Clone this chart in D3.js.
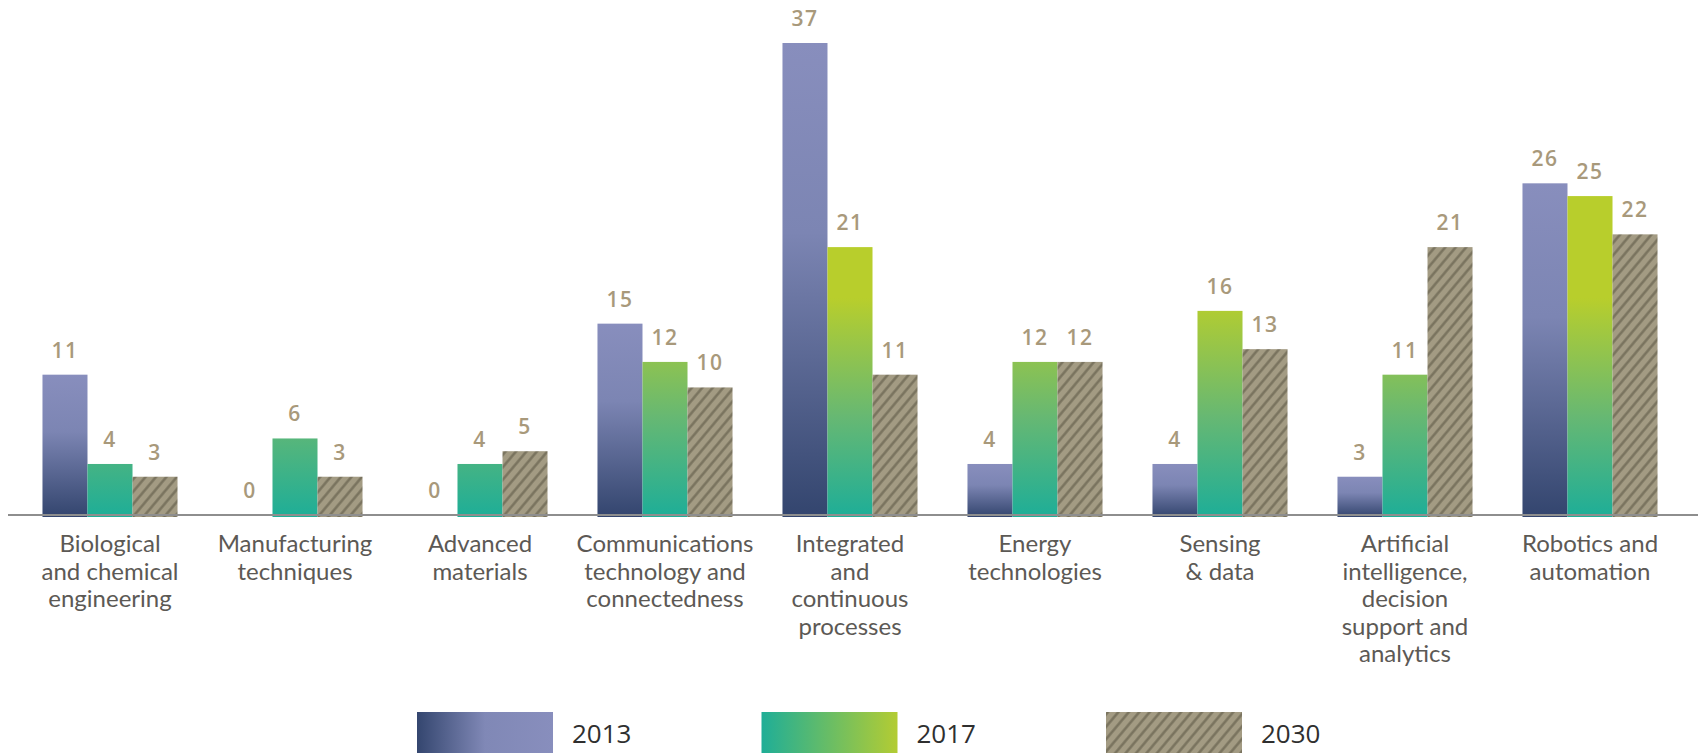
<!DOCTYPE html>
<html>
<head>
<meta charset="utf-8">
<script src="https://cdn.jsdelivr.net/npm/d3@7"></script>
<style>
    html, body { margin: 0; padding: 0; background: #fff; overflow: hidden; }
    svg { display: block; }
</style>
</head>
<body>
<svg id="chart"></svg>
<script>
// values
const categories = [
    'Biological and chemical engineering',
    'Manufacturing techniques',
    'Advanced materials',
    'Communications technology and connectedness',
    'Integrated and continuous processes',
    'Energy technologies',
    'Sensing & data',
    'Artificial intelligence, decision support and analytics',
    'Robotics and automation',
];
const categoryLines = [
    ['Biological', 'and chemical', 'engineering'],
    ['Manufacturing', 'techniques'],
    ['Advanced', 'materials'],
    ['Communications', 'technology and', 'connectedness'],
    ['Integrated', 'and', 'continuous', 'processes'],
    ['Energy', 'technologies'],
    ['Sensing', '& data'],
    ['Artificial', 'intelligence,', 'decision', 'support and', 'analytics'],
    ['Robotics and', 'automation'],
];
const series = ['2013', '2017', '2030'];
const values2013 = [11, 0, 0, 15, 37, 4, 4, 3, 26];
const values2017 = [4, 6, 4, 12, 21, 12, 16, 11, 25];
const values2030 = [3, 3, 5, 10, 11, 12, 13, 21, 22];

const width = 1698;
const height = 753;
const baseY = 515;
const labelColor = '#a8997b';

const svg = d3.select('#chart')
    .attr('width', width)
    .attr('height', height);

const x0 = d3.scaleBand()
    .domain(categories)
    .range([17.5, 1682.5])
    .paddingInner(0.27)
    .paddingOuter(0.135);
const x1 = d3.scaleBand()
    .domain(series)
    .range([0, x0.bandwidth()]);
const y = d3.scaleLinear()
    .domain([0, 37])
    .range([baseY, 43]);

const defs = svg.append('defs');

// 2013: per-bar vertical gradient, dark at the bottom
const g13 = defs.append('linearGradient')
    .attr('id', 'g2013')
    .attr('x1', 0).attr('y1', 1).attr('x2', 0).attr('y2', 0);
g13.append('stop').attr('offset', 0).attr('stop-color', '#33456e');
g13.append('stop').attr('offset', 0.6).attr('stop-color', '#7c85b3');
g13.append('stop').attr('offset', 1).attr('stop-color', '#888ebd');

// 2017: teal at the baseline to yellow-green higher up
const g17 = defs.append('linearGradient')
    .attr('id', 'g2017')
    .attr('gradientUnits', 'userSpaceOnUse')
    .attr('x1', 0).attr('y1', y(0)).attr('x2', 0).attr('y2', y(17));
g17.append('stop').attr('offset', 0).attr('stop-color', '#1fae97');
g17.append('stop').attr('offset', 0.45).attr('stop-color', '#66b873');
g17.append('stop').attr('offset', 1).attr('stop-color', '#b8ce2c');

// legend swatches run left to right
const l13 = defs.append('linearGradient').attr('id', 'l2013');
l13.append('stop').attr('offset', 0).attr('stop-color', '#34466f');
l13.append('stop').attr('offset', 0.5).attr('stop-color', '#8088b6');
l13.append('stop').attr('offset', 1).attr('stop-color', '#888ebd');
const l17 = defs.append('linearGradient').attr('id', 'l2017');
l17.append('stop').attr('offset', 0).attr('stop-color', '#1fae97');
l17.append('stop').attr('offset', 1).attr('stop-color', '#b3cc33');

// 2030: khaki with dark diagonal hatching
const hatch = defs.append('pattern')
    .attr('id', 'hatch')
    .attr('patternUnits', 'userSpaceOnUse')
    .attr('width', 8)
    .attr('height', 8)
    .attr('patternTransform', 'rotate(40)');
hatch.append('rect')
    .attr('width', 8).attr('height', 8)
    .attr('fill', '#a39b83');
hatch.append('line')
    .attr('x1', 1.5).attr('y1', 0).attr('x2', 1.5).attr('y2', 8)
    .attr('stroke', '#6c6553')
    .attr('stroke-opacity', 0.8)
    .attr('stroke-width', 2.4);

const fills = { '2013': 'url(#g2013)', '2017': 'url(#g2017)', '2030': 'url(#hatch)' };
const legendFills = { '2013': 'url(#l2013)', '2017': 'url(#l2017)', '2030': 'url(#hatch)' };

const rows = categories.map((c, i) => ({
    category: c,
    lines: categoryLines[i],
    bars: [
        { key: '2013', value: values2013[i] },
        { key: '2017', value: values2017[i] },
        { key: '2030', value: values2030[i] },
    ],
}));

const groups = svg.append('g')
    .selectAll('g')
    .data(rows)
    .join('g')
    .attr('transform', d => `translate(${ x0(d.category) },0)`);

groups.selectAll('rect')
    .data(d => d.bars.filter(b => b.value > 0))
    .join('rect')
    .attr('x', d => x1(d.key))
    .attr('y', d => y(d.value))
    .attr('width', x1.bandwidth())
    .attr('height', d => y(0) - y(d.value) + 2)
    .attr('fill', d => fills[d.key]);

// value labels above each bar (zeros too)
groups.selectAll('text.value')
    .data(d => d.bars)
    .join('text')
    .classed('value', true)
    .attr('x', d => x1(d.key) + x1.bandwidth() / 2)
    .attr('y', d => y(d.value) - 17)
    .attr('text-anchor', 'middle')
    .attr('font-family', '"Open Sans", "DejaVu Sans", sans-serif')
    .attr('font-weight', 600)
    .attr('font-size', 21)
    .attr('letter-spacing', 1.5)
    .attr('fill', labelColor)
    .text(d => d.value);

// baseline
svg.append('line')
    .attr('x1', 8)
    .attr('x2', width)
    .attr('y1', y(0))
    .attr('y2', y(0))
    .attr('stroke', '#8e8e8e')
    .attr('stroke-width', 2);

// category labels, one tspan per line
const catText = groups.append('text')
    .attr('text-anchor', 'middle')
    .attr('font-family', 'Lato, "Open Sans", sans-serif')
    .attr('font-size', 24)
    .attr('fill', '#5c5955')
    .attr('y', y(0) + 37);
catText.selectAll('tspan')
    .data(d => d.lines)
    .join('tspan')
    .attr('x', x0.bandwidth() / 2)
    .attr('dy', (d, i) => (i === 0 ? 0 : 27.5))
    .text(d => d);

// legend
const lx = d3.scalePoint()
    .domain(series)
    .range([417, 1106]);
const legend = svg.append('g')
    .selectAll('g')
    .data(series)
    .join('g')
    .attr('transform', d => `translate(${ lx(d) },712)`);
legend.append('rect')
    .attr('width', 136)
    .attr('height', 50)
    .attr('fill', d => legendFills[d]);
legend.append('text')
    .attr('x', 155)
    .attr('y', 31)
    .attr('font-family', '"Liberation Sans Narrow", "Open Sans", sans-serif')
    .attr('font-size', 26)
    .attr('fill', '#2f2f2f')
    .text(d => d);
</script>
</body>
</html>
